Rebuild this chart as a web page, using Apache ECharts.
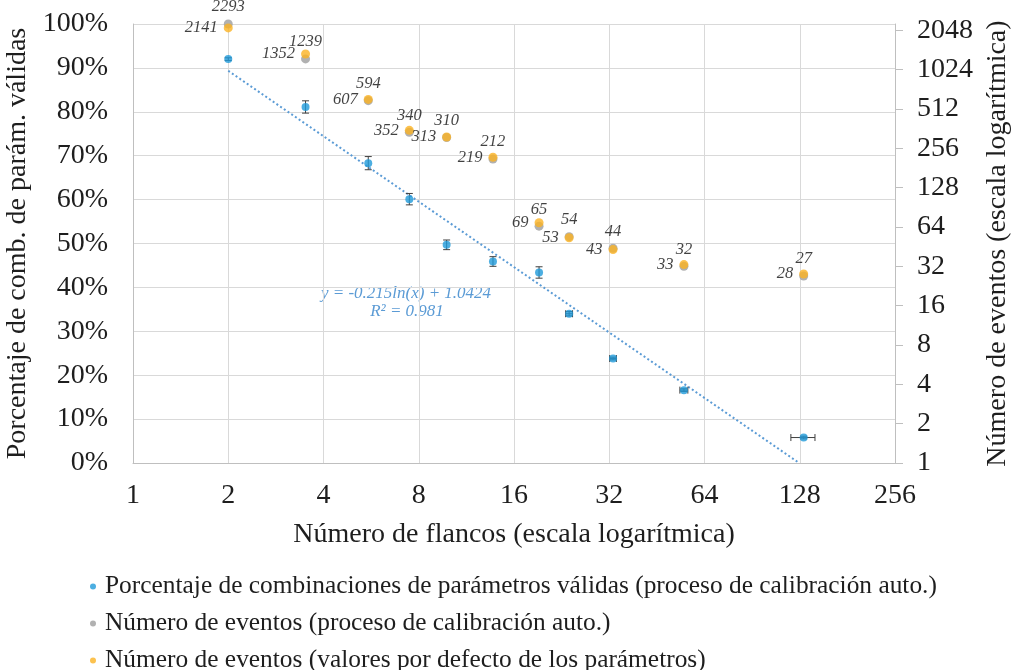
<!DOCTYPE html>
<html><head><meta charset="utf-8">
<script src="https://cdn.jsdelivr.net/npm/echarts@6/dist/echarts.min.js"></script>
<style>html,body{margin:0;padding:0;background:#fff;overflow:hidden}#c{width:1011px;height:670px}</style>
</head><body><div id="c"></div>
<script>
// ---- data ----
const flancos = [2, 3.51, 5.54, 7.47, 9.8, 13.73, 19.2, 23.9, 32.9, 55.1, 131.7];
const flancosLo = [2, 3.51, 5.54, 7.47, 9.8, 13.73, 19.2, 23.3, 32.1, 53.5, 120];
const flancosHi = [2, 3.51, 5.54, 7.47, 9.8, 13.73, 19.2, 24.5, 33.7, 56.7, 143];
const porcentaje = [0.92, 0.811, 0.683, 0.601, 0.497, 0.459, 0.434, 0.340, 0.238, 0.166, 0.058];
const porcentajeErr = [0.003, 0.014, 0.015, 0.013, 0.011, 0.011, 0.013, 0.005, 0.003, 0.003, 0.003];
const eventosAuto = [2293, 1239, 594, 340, 310, 212, 65, 54, 44, 32, 27];
const eventosDefecto = [2141, 1352, 607, 352, 313, 219, 69, 53, 43, 33, 28];
const trendX = [2, 127.5];
const trendY = [0.8934, 0];
const legendNames = [
  'Porcentaje de combinaciones de parámetros válidas (proceso de calibración auto.)',
  'Número de eventos (proceso de calibración auto.)',
  'Número de eventos (valores por defecto de los parámetros)'
];

const FONT = '"Liberation Serif", "Times New Roman", serif';
const BLUE = '#1f9ad9', GRAY = '#9d9d9d', ORANGE = '#fbb323', TREND = '#5b9bd5';
const TXT = '#1e1e1e';
const chart = echarts.init(document.getElementById('c'), null, {renderer: 'canvas', width: 1011, height: 670});

const errData = flancos.map((x, i) => [x, porcentaje[i], porcentaje[i] - porcentajeErr[i], porcentaje[i] + porcentajeErr[i], flancosLo[i], flancosHi[i]]);

const labelStyle = {fontFamily: FONT, fontStyle: 'italic', fontSize: 16.5, color: '#111'};

chart.setOption({
  animation: false,
  backgroundColor: '#fff',
  textStyle: {fontFamily: FONT},
  grid: {left: 133, top: 24, right: 116, bottom: 207, containLabel: false, outerBoundsMode: 'none'},
  legend: {
    orient: 'vertical', left: 85, top: 569, height: 120, itemGap: 12,
    itemWidth: 6, itemHeight: 6, icon: 'circle',
    textStyle: {fontFamily: FONT, fontSize: 25.4, color: TXT, lineHeight: 25, padding: [0, 0, 0, 4]},
    data: legendNames
  },
  xAxis: {
    type: 'log', logBase: 2, min: 1, max: 256, splitNumber: 8,
    name: 'Número de flancos (escala logarítmica)', nameLocation: 'middle', nameGap: 58,
    nameTextStyle: {fontFamily: FONT, fontSize: 28, color: TXT},
    axisLine: {show: true, lineStyle: {color: '#bfbfbf', width: 1}},
    axisTick: {show: false},
    axisLabel: {fontFamily: FONT, fontSize: 28, color: TXT, margin: 19, formatter: v => String(Math.round(v))},
    splitLine: {show: true, lineStyle: {color: '#d9d9d9', width: 1}},
    minorSplitLine: {show: false}
  },
  yAxis: [{
    type: 'value', min: 0, max: 1, interval: 0.1, position: 'left',
    name: 'Porcentaje de comb. de parám. válidas', nameLocation: 'middle', nameGap: 94, nameRotate: 90,
    nameTextStyle: {fontFamily: FONT, fontSize: 28, color: TXT},
    axisLine: {show: true, lineStyle: {color: '#bfbfbf', width: 1}},
    axisTick: {show: false},
    axisLabel: {fontFamily: FONT, fontSize: 28, color: TXT, margin: 25, formatter: v => Math.round(v * 100) + '%'},
    splitLine: {show: true, lineStyle: {color: '#d9d9d9', width: 1}}
  }, {
    type: 'log', logBase: 2, min: 1, max: 2293, position: 'right', interval: 1,
    name: 'Número de eventos (escala logarítmica)', nameLocation: 'middle', nameGap: 86, nameRotate: 90,
    nameTextStyle: {fontFamily: FONT, fontSize: 28, color: TXT},
    axisLine: {show: true, lineStyle: {color: '#bfbfbf', width: 1}},
    axisTick: {show: true, inside: false, length: 8, lineStyle: {color: '#bfbfbf'}},
    axisLabel: {fontFamily: FONT, fontSize: 28, color: TXT, margin: 22, showMaxLabel: false, formatter: v => String(Math.round(v))},
    splitLine: {show: false}
  }],
  graphic: [
    {type: 'text', x: 406, y: 294, style: {text: 'y = -0.215ln(x) + 1.0424', font: 'italic 17px ' + FONT, fill: TREND, align: 'center', verticalAlign: 'middle'}},
    {type: 'text', x: 407, y: 312, style: {text: 'R² = 0.981', font: 'italic 17px ' + FONT, fill: TREND, align: 'center', verticalAlign: 'middle'}}
  ],
  series: [
    {
      name: 'trend', type: 'line', xAxisIndex: 0, yAxisIndex: 0,
      data: trendX.map((x, i) => [x, trendY[i]]),
      showSymbol: false, symbol: 'none', silent: true, z: 1,
      lineStyle: {color: TREND, width: 2, type: [2, 2.5]}
    },
    {
      name: 'err', type: 'custom', xAxisIndex: 0, yAxisIndex: 0, z: 2, silent: true,
      data: errData,
      renderItem: function (params, api) {
        const x = api.value(0), y = api.value(1);
        const p = api.coord([x, y]);
        const lo = api.coord([x, api.value(2)]);
        const hi = api.coord([x, api.value(3)]);
        const xl = api.coord([api.value(4), y]);
        const xh = api.coord([api.value(5), y]);
        const c = 3.5;
        const st = {stroke: '#404040', lineWidth: 1};
        const children = [];
        if (Math.abs(lo[1] - hi[1]) > 2) {
          children.push({type: 'line', shape: {x1: p[0], y1: lo[1], x2: p[0], y2: hi[1]}, style: st});
          children.push({type: 'line', shape: {x1: p[0] - c, y1: lo[1], x2: p[0] + c, y2: lo[1]}, style: st});
          children.push({type: 'line', shape: {x1: p[0] - c, y1: hi[1], x2: p[0] + c, y2: hi[1]}, style: st});
        }
        if (Math.abs(xh[0] - xl[0]) > 2) {
          children.push({type: 'line', shape: {x1: xl[0], y1: p[1], x2: xh[0], y2: p[1]}, style: st});
          children.push({type: 'line', shape: {x1: xl[0], y1: p[1] - c, x2: xl[0], y2: p[1] + c}, style: st});
          children.push({type: 'line', shape: {x1: xh[0], y1: p[1] - c, x2: xh[0], y2: p[1] + c}, style: st});
        }
        return {type: 'group', children: children};
      }
    },
    {
      name: legendNames[0], type: 'scatter', xAxisIndex: 0, yAxisIndex: 0, z: 3,
      data: flancos.map((x, i) => [x, porcentaje[i]]),
      symbol: 'circle', symbolSize: 8, itemStyle: {color: BLUE}
    },
    {
      name: legendNames[1], type: 'scatter', xAxisIndex: 0, yAxisIndex: 1, z: 3,
      data: flancos.map((x, i) => [x, eventosAuto[i]]),
      symbol: 'circle', symbolSize: 9, itemStyle: {color: GRAY},
      label: {show: true, position: 'top', distance: 4, formatter: p => p.value[1], ...labelStyle}
    },
    {
      name: legendNames[2], type: 'scatter', xAxisIndex: 0, yAxisIndex: 1, z: 4,
      data: flancos.map((x, i) => [x, eventosDefecto[i]]),
      symbol: 'circle', symbolSize: 9, itemStyle: {color: ORANGE},
      label: {show: true, position: 'left', distance: 6, formatter: p => p.value[1], ...labelStyle}
    }
  ]
});
</script></body></html>
